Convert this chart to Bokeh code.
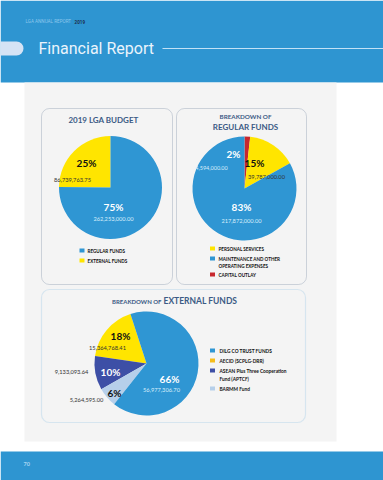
from bokeh.plotting import figure
from bokeh.models import BoxAnnotation, Range1d
from bokeh.core.properties import value
from bokeh.embed import file_html
from bokeh.resources import INLINE
import numpy as np

# ---------------- data ----------------
budget_labels = ["EXTERNAL FUNDS", "REGULAR FUNDS"]
budget_values = [86739763.75, 262253000.00]
budget_pct = ["25%", "75%"]
budget_amt = ["86,739,763.75", "262,253,000.00"]

regular_labels = ["CAPITAL OUTLAY", "PERSONAL SERVICES", "MAINTENANCE AND OTHER OPERATING EXPENSES"]
regular_values = [4594000.00, 39787000.00, 217872000.00]
regular_pct = ["2%", "15%", "83%"]
regular_amt = ["4,594,000.00", "39,787,000.00", "217,872,000.00"]

external_labels = ["AECID (SCPLG-DRR)", "ASEAN Plus Three Cooperation Fund (APTCF)", "BARMM Fund", "DILG CO TRUST FUNDS"]
external_values = [15364768.41, 9133093.64, 5264595.00, 56977306.70]
external_pct = ["18%", "10%", "6%", "66%"]
external_amt = ["15,364,768.41", "9,133,093.64", "5,264,595.00", "56,977,306.70"]

# ---------------- styles ----------------
BLUE = "#2f96d3"
YELLOW = "#ffe500"
RED = "#c8282e"
DBLUE = "#3d4fa6"
LBLUE = "#b6cfea"
TITLE = "#3b5b85"
FONT = "Lato"
W, H = 383, 480


def Y(y):
    return H - y


p = figure(width=W, height=H, x_range=Range1d(0, W), y_range=Range1d(0, H),
           output_backend="svg", toolbar_location=None, min_border=0,
           x_axis_location=None, y_axis_location=None)
p.grid.visible = False
p.outline_line_color = None
p.background_fill_color = "white"
p.border_fill_color = "white"


def box(l, r, t, b, color, line=None, radius=0, lw=1):
    p.add_layout(BoxAnnotation(left=l, right=r, top=Y(t), bottom=Y(b), fill_color=color,
                               fill_alpha=1, line_color=line, line_width=lw,
                               border_radius=radius, level="underlay"))


def txt(x, y, s, size, color, bold=False, align="center", font=FONT):
    p.text(x=[x], y=[Y(y)], text=[s], text_font=value(font), text_font_size=f"{size}px",
           text_color=color, text_align=align, text_baseline="middle",
           text_font_style="bold" if bold else "normal")


# background bands
box(0, W, 0, 82, "#2e95d1")
box(24, 336, 82, 441, "#f4f4f4")
box(0, W, 451, H, "#2e95d1")
box(-10, 23, 41, 55, "#d5e3f5", radius=7)

txt(25, 21, "LGA ANNUAL REPORT", 4.6, "#8cc6ec", align="left", font="Roboto")
txt(74, 21, "2019", 4.6, "#1d2f4f", bold=True, align="left", font="Roboto")
txt(38, 48, "Financial Report", 16, "#eaf4fc", align="left", font="Roboto")
p.line(x=[162, W], y=[Y(48), Y(48)], line_color="#c2e1f6", line_width=1)
txt(23, 463, "70", 5.5, "#a8d6f2", bold=True, align="left")

# panels
box(41, 172, 108, 284, None, line="#6e819c", radius=8)
box(176, 306, 108, 284, None, line="#6e819c", radius=8)
box(41, 305, 289, 422, None, line="#93c3e3", radius=8, lw=1.2)


def pie(cx, cy, r, vals, colors, start, clockwise=False):
    v = np.array(vals, dtype=float)
    frac = v / v.sum()
    cum = np.concatenate([[0], np.cumsum(frac)]) * 2 * np.pi
    st = np.deg2rad(start)
    if clockwise:
        sa = st - cum[1:]
        ea = st - cum[:-1]
    else:
        sa = st + cum[:-1]
        ea = st + cum[1:]
    p.wedge(x=[cx] * len(v), y=[Y(cy)] * len(v), radius=r, start_angle=sa, end_angle=ea,
            fill_color=colors, line_color=None)


# ---- pie 1
txt(103, 119, "2019 LGA BUDGET", 8, TITLE, bold=True)
pie(110, 187, 51.5, budget_values, [YELLOW, BLUE], 90)
txt(86, 162, budget_pct[0], 10, "#111111", bold=True)
txt(72, 179, budget_amt[0], 5.7, "#333333")
txt(113, 206, budget_pct[1], 10, "white", bold=True)
txt(113, 218, budget_amt[1], 5.7, "#d9eefb")
for i, (lab, col) in enumerate(zip(["REGULAR FUNDS", "EXTERNAL FUNDS"], [BLUE, YELLOW])):
    yy = 250 + i * 10
    p.rect(x=[81.5], y=[Y(yy)], width=5, height=4, fill_color=col, line_color=None)
    txt(87, yy, lab, 4.6, "#111111", bold=True, align="left")

# ---- pie 2
txt(245, 116, "BREAKDOWN OF", 6.3, TITLE, bold=True)
txt(245, 126, "REGULAR FUNDS", 8, TITLE, bold=True)
pie(244, 188, 52, regular_values, [RED, YELLOW, BLUE], 90, clockwise=True)
txt(233, 153, regular_pct[0], 10, "white", bold=True)
txt(211, 167, regular_amt[0], 5.5, "#d9eefb")
txt(254, 162, regular_pct[1], 10, "#111111", bold=True)
txt(266, 176, regular_amt[1], 5.7, "#333333")
txt(241, 206, regular_pct[2], 10, "white", bold=True)
txt(241, 220, regular_amt[2], 5.7, "#d9eefb")
leg2 = [("PERSONAL SERVICES", YELLOW, 248, None), ("MAINTENANCE AND OTHER", BLUE, 258, "OPERATING EXPENSES"),
        ("CAPITAL OUTLAY", RED, 274, None)]
for lab, col, yy, lab2 in leg2:
    p.rect(x=[212], y=[Y(yy)], width=5, height=4, fill_color=col, line_color=None)
    txt(218, yy, lab, 4.6, "#111111", bold=True, align="left")
    if lab2:
        txt(218, yy + 7, lab2, 4.6, "#111111", bold=True, align="left")

# ---- pie 3
txt(161, 301, "BREAKDOWN OF", 6, TITLE, bold=True, align="right")
txt(163, 300, "EXTERNAL FUNDS", 8.5, TITLE, bold=True, align="left")
pie(146, 363, 52, external_values, [YELLOW, DBLUE, LBLUE, BLUE], 108)
txt(120, 335, external_pct[0], 10, "#111111", bold=True)
txt(107, 347, external_amt[0], 5.7, "#333333")
txt(110, 371, external_pct[1], 10, "white", bold=True)
txt(71, 371, external_amt[1], 5.7, "#333333")
txt(114, 392, external_pct[2], 10, "#111111", bold=True)
txt(86, 399, external_amt[2], 5.7, "#333333")
txt(169, 378, external_pct[3], 10, "white", bold=True)
txt(161, 389, external_amt[3], 5.7, "#d9eefb")
leg3 = [("DILG CO TRUST FUNDS", BLUE, 350, None), ("AECID (SCPLG-DRR)", "#f5bd1c", 360, None),
        ("ASEAN Plus Three Cooperation", DBLUE, 370, "Fund (APTCF)"), ("BARMM Fund", LBLUE, 388, None)]
for lab, col, yy, lab2 in leg3:
    p.rect(x=[212], y=[Y(yy)], width=5, height=4, fill_color=col, line_color=None)
    txt(219, yy, lab, 4.8, "#111111", bold=True, align="left")
    if lab2:
        txt(219, yy + 8, lab2, 4.8, "#111111", bold=True, align="left")

open("out.html", "w").write(file_html(p, INLINE))
